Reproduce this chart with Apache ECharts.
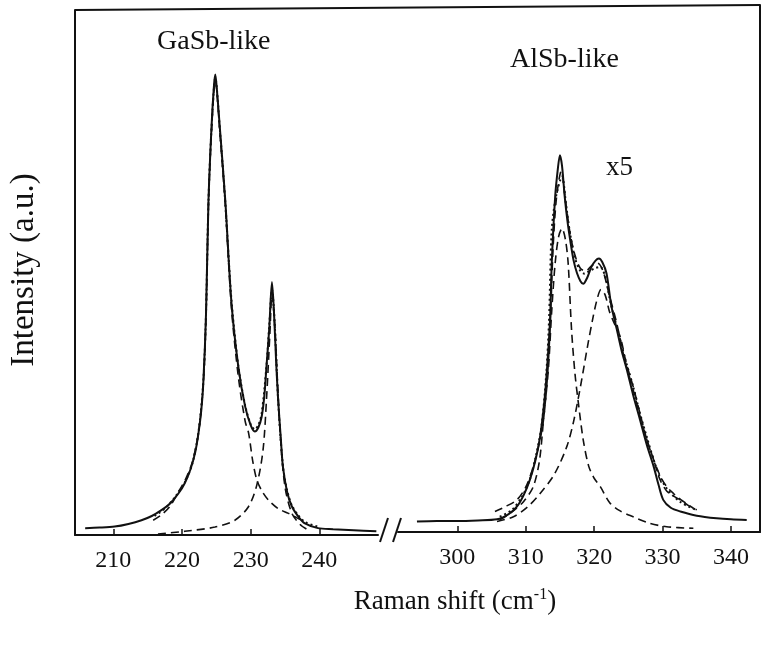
<!DOCTYPE html>
<html>
<head>
<meta charset="utf-8">
<title>Raman spectra</title>
<script src="https://cdn.jsdelivr.net/npm/echarts@6/dist/echarts.min.js"></script>
<style>
  html, body { margin: 0; padding: 0; background: #fff; }
  #chart { width: 764px; height: 657px; }
</style>
</head>
<body>
<div id="chart"></div>
<script>
// GaSb-like panel (left)
const gasbTicks = [210, 220, 230, 240];
const gasbDataX = [205.9, 208, 210.2, 212.2, 214.1, 215.6, 217.0, 218.3, 219.5, 220.4, 221.2, 221.9, 222.4, 222.8, 223.1, 223.5, 223.85, 224.3, 224.65, 224.85, 225.1, 225.5, 226.3, 227.2, 228.2, 229.2, 230.0, 230.6, 231.1, 231.6, 232.0, 232.3, 232.7, 233.1, 233.4, 233.7, 234.0, 234.4, 234.7, 235.3, 236.0, 237.0, 237.9, 239.8, 242, 245, 248.3];
const gasbDataY = [1.3, 1.4, 1.6, 2.1, 2.8, 3.6, 4.7, 6.0, 7.9, 9.8, 12.3, 15.5, 19.3, 23.5, 28.7, 42, 63, 77.3, 85, 87.2, 84, 77.3, 63.4, 44, 31.9, 24.3, 20.8, 19.6, 20.3, 22.4, 26.5, 31.9, 39, 47.9, 42, 33, 25.6, 18, 12.9, 8.2, 5.4, 3.4, 2.2, 1.3, 1.1, 0.9, 0.7];

const gasbFitX = [216.0, 217.5, 219, 220.5, 221.5, 222.4, 223.1, 223.5, 223.85, 224.3, 224.85, 225.5, 226.3, 227.2, 228.2, 229.2, 230.0, 230.6, 231.1, 231.6, 232.3, 232.7, 233.1, 233.5, 234.0, 234.7, 235.3, 236.0, 237.0, 238.0, 240.0];
const gasbFitY = [3.6, 5.0, 7.2, 10.2, 13.5, 19.5, 29, 42, 63, 77, 86.5, 77, 63, 44.5, 32, 24.5, 21, 20, 20.8, 23, 32, 39.5, 46.5, 40, 25.5, 13, 8.5, 5.6, 3.6, 2.4, 1.5];

const gasbComp1X = [215.8, 217, 218.3, 219.4, 220.5, 221.5, 222.4, 223.1, 223.5, 223.85, 224.3, 224.85, 225.5, 226.3, 227.2, 228.2, 229.2, 229.7, 230.3, 230.9, 231.7, 232.6, 234, 235.5, 236.8, 237.9];
const gasbComp1Y = [2.8, 3.8, 5.5, 8.0, 10.5, 13.8, 19.3, 28.5, 41.5, 62.5, 76.5, 86, 76.5, 62.5, 43, 30, 21.5, 19.3, 14, 10.4, 8.2, 6.6, 5.0, 4.1, 3.2, 2.5];

const gasbComp2X = [216.5, 220.4, 224.8, 227.7, 229.7, 230.9, 231.8, 232.3, 232.8, 233.1, 233.5, 233.8, 234.3, 235.0, 236.0, 237.2, 238.4];
const gasbComp2Y = [0.2, 0.7, 1.5, 2.8, 5.4, 9.5, 16.1, 25.6, 38.2, 45.5, 40, 31.9, 19.3, 9.1, 4.1, 2.0, 0.9];

// AlSb-like panel (right), shown x5
const alsbTicks = [300, 310, 320, 330, 340];
const alsbDataX = [294.1, 297, 299.9, 303, 305.8, 307.5, 308.7, 309.7, 310.6, 311.4, 312.1, 312.7, 313.1, 313.55, 313.8, 314.3, 314.7, 315.0, 315.3, 315.7, 316.1, 316.5, 317.0, 317.5, 318.0, 318.4, 319.0, 319.6, 320.2, 320.7, 321.2, 321.8, 322.5, 323.3, 324.0, 324.8, 325.7, 326.7, 327.7, 328.7, 329.4, 330.1, 331.2, 332.6, 335, 337.9, 340, 342.3];
const alsbDataY = [2.0, 2.1, 2.1, 2.2, 2.4, 3.4, 4.8, 7.0, 9.9, 13.5, 18.1, 24.5, 30.7, 40.2, 51.0, 63.6, 69, 71.5, 69.5, 63.6, 59, 55.4, 51.5, 49.1, 47.6, 47.1, 48.3, 50.3, 51.5, 51.9, 51.2, 49.1, 43, 38.5, 34.5, 30.7, 26, 21.3, 16.5, 12.4, 9.0, 6.1, 4.6, 3.9, 3.1, 2.6, 2.4, 2.3];

const alsbDotX = [306.2, 308, 309.5, 310.6, 311.5, 312.3, 313.0, 313.4, 313.8, 314.4, 315.3, 315.9, 316.5, 317.2, 317.9, 318.6, 319.4, 320.2, 320.9, 321.6, 322.4, 323.3, 324.5, 325.7, 326.7, 327.7, 328.7, 329.6, 330.6, 331.6, 332.6, 333.8, 335.0];
const alsbDotY = [2.9, 4.2, 6.8, 10, 14.5, 20, 30, 40, 57.3, 63.5, 67.4, 62, 56.5, 52, 49.7, 49, 49.6, 50.1, 50.3, 48.5, 43.5, 39, 33, 27.6, 22.5, 18, 13.7, 10.5, 8.3, 6.8, 5.7, 4.8, 4.2];

const alsbSumX = [305.5, 307, 308.7, 310, 311.1, 312.0, 312.6, 313.2, 313.6, 314.0, 314.5, 315.2, 315.8, 316.5, 317.2, 318.0, 318.8, 319.6, 320.5, 321.3, 322.2, 323.3, 324.5, 325.7, 326.7, 327.7, 328.7, 329.6, 330.6, 331.6, 332.6, 333.8, 335.0];
const alsbSumY = [3.9, 4.8, 6.1, 8.5, 12.4, 17, 21.3, 30, 40, 54, 63.5, 68.5, 63, 56.5, 52.5, 50, 49.5, 50.5, 51, 49.5, 45, 39.6, 32.5, 27, 22, 17.5, 13.7, 10, 7.8, 6.8, 6.1, 5.0, 4.2];

const alsbComp1X = [306.2, 308, 309.7, 311.1, 312.0, 312.6, 313.3, 313.8, 314.3, 314.8, 315.3, 315.8, 316.2, 316.7, 317.2, 317.7, 318.4, 319.2, 320.0, 320.9, 322.3, 323.8, 325.7, 328, 330.6, 334.5];
const alsbComp1Y = [2.3, 3.8, 5.8, 8.6, 13.5, 21.3, 30.7, 42, 51, 56, 57.6, 55.5, 51, 38.3, 30, 24.4, 17.5, 12.5, 10.2, 8.6, 5.5, 4.0, 2.9, 1.7, 1.0, 0.7];

const alsbComp2X = [305.8, 308.2, 310.3, 312.1, 314.2, 316.0, 317.0, 318.0, 319.0, 319.8, 320.4, 321.0, 321.6, 322.2, 322.8, 323.8, 324.7, 325.7, 326.7, 327.7, 328.7, 329.7, 330.6, 331.6, 332.6, 333.6, 334.5];
const alsbComp2Y = [2.0, 2.9, 4.8, 7.3, 11, 16.2, 21, 27.6, 35, 40.5, 44, 46.0, 45, 42, 40, 37.1, 32, 27.6, 22.5, 17.5, 13.7, 10.5, 8.6, 7.3, 6.2, 5.3, 4.5];

const pairs = (xs, ys) => xs.map((x, i) => [x, ys[i]]);

const FONT = "Liberation Serif";
const INK = "#111";

const solid = { color: INK, width: 2 };
const dotted = { color: INK, width: 2, type: [2, 3] };
const dashed = { color: INK, width: 1.6, type: [8, 5] };

function line(name, idx, data, style, smooth) {
  return {
    name: name,
    type: "line",
    xAxisIndex: idx,
    yAxisIndex: idx,
    data: data,
    showSymbol: false,
    smooth: smooth,
    lineStyle: style,
    z: 3
  };
}

function xAxisFor(gridIndex, min, max, ticks) {
  return {
    type: "value",
    gridIndex: gridIndex,
    min: min,
    max: max,
    splitLine: { show: false },
    axisLine: { show: true, onZero: false, lineStyle: { color: INK, width: 2 } },
    axisTick: { show: true, inside: true, length: 6, customValues: ticks, lineStyle: { color: INK, width: 1.5 } },
    axisLabel: { customValues: ticks, color: INK, fontFamily: FONT, fontSize: 24, margin: 14 }
  };
}

const chart = echarts.init(document.getElementById("chart"));

chart.setOption({
  backgroundColor: "#fff",
  animation: false,
  grid: [
    { left: 75, right: 386, top: 10, bottom: 122 },
    { left: 398, right: 4, top: 5, bottom: 125 }
  ],
  xAxis: [
    xAxisFor(0, 204.42, 248.54, gasbTicks),
    xAxisFor(1, 291.33, 344.24, alsbTicks)
  ],
  yAxis: [
    {
      type: "value", gridIndex: 0, min: 0, max: 99.4,
      axisLine: { show: true, lineStyle: { color: INK, width: 2 } },
      axisTick: { show: false }, axisLabel: { show: false }, splitLine: { show: false }
    },
    {
      type: "value", gridIndex: 1, min: 0, max: 100, position: "right",
      axisLine: { show: true, lineStyle: { color: INK, width: 2 } },
      axisTick: { show: false }, axisLabel: { show: false }, splitLine: { show: false }
    }
  ],
  series: [
    line("GaSb data", 0, pairs(gasbDataX, gasbDataY), solid, 0.3),
    line("GaSb fit", 0, pairs(gasbFitX, gasbFitY), dotted, 0.3),
    line("GaSb LO1", 0, pairs(gasbComp1X, gasbComp1Y), dashed, 0.3),
    line("GaSb LO2", 0, pairs(gasbComp2X, gasbComp2Y), dashed, 0.3),
    line("AlSb data", 1, pairs(alsbDataX, alsbDataY), solid, 0.3),
    line("AlSb fit", 1, pairs(alsbDotX, alsbDotY), dotted, 0.3),
    line("AlSb sum", 1, pairs(alsbSumX, alsbSumY), dashed, 0.3),
    line("AlSb LO1", 1, pairs(alsbComp1X, alsbComp1Y), dashed, 0.3),
    line("AlSb LO2", 1, pairs(alsbComp2X, alsbComp2Y), dashed, 0.3)
  ],
  graphic: [
    // top edge of the frame
    { type: "line", shape: { x1: 75, y1: 10, x2: 760, y2: 5 }, style: { stroke: INK, lineWidth: 2 } },
    // axis break
    { type: "line", shape: { x1: 380, y1: 542, x2: 388, y2: 518 }, style: { stroke: INK, lineWidth: 2 } },
    { type: "line", shape: { x1: 393, y1: 542, x2: 401, y2: 518 }, style: { stroke: INK, lineWidth: 2 } },
    { type: "text", left: 157, top: 28, style: { text: "GaSb-like", font: "28px " + FONT, fill: INK } },
    { type: "text", left: 510, top: 46, style: { text: "AlSb-like", font: "28px " + FONT, fill: INK } },
    { type: "text", left: 606, top: 154, style: { text: "x5", font: "27px " + FONT, fill: INK } },
    {
      type: "text", x: 24, y: 270, rotation: Math.PI / 2,
      style: { text: "Intensity (a.u.)", font: "33px " + FONT, fill: INK, align: "center", verticalAlign: "middle" }
    },
    {
      type: "text", x: 455, y: 602,
      style: {
        text: "Raman shift (cm{sup|-1})",
        font: "27px " + FONT, fill: INK, align: "center", verticalAlign: "middle",
        rich: { sup: { fontSize: 16, fontFamily: FONT, fill: INK, verticalAlign: "top", padding: [0, 0, 14, 0] } }
      }
    }
  ]
});
</script>
</body>
</html>
